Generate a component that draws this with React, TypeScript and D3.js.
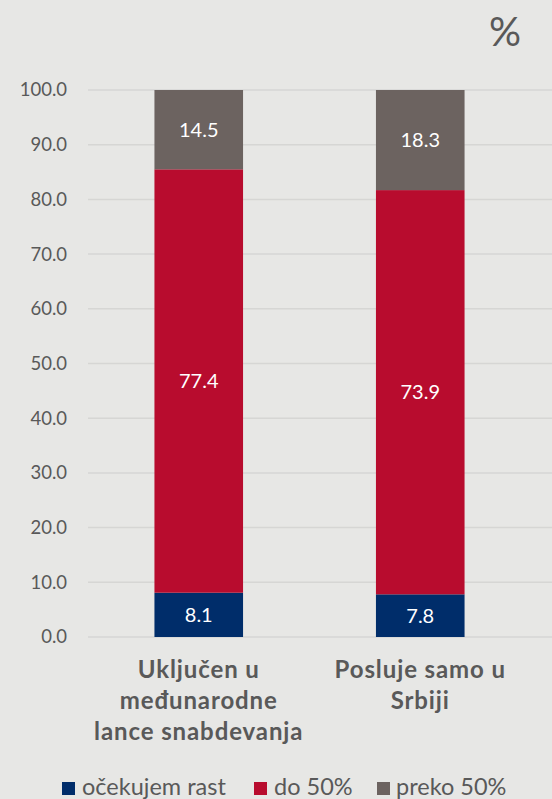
import React from "react";
import * as d3 from "d3";

const categories = [
  ["Uključen u", "međunarodne", "lance snabdevanja"],
  ["Posluje samo u", "Srbiji"],
];
const seriesNames = ["očekujem rast", "do 50%", "preko 50%"];
const rastValues = [8.1, 7.8];
const do50Values = [77.4, 73.9];
const preko50Values = [14.5, 18.3];
const yTicks = [0, 10, 20, 30, 40, 50, 60, 70, 80, 90, 100];

const colors = ["#002d6a", "#b80c2e", "#6c6360"];
const FONT = "'Lato', 'Open Sans', sans-serif";

export default function App() {
  const W = 552, H = 799;
  const x0 = 88, x1 = 531;
  const y = d3.scaleLinear().domain([0, 100]).range([637, 90]);
  const x = d3.scaleBand<number>().domain([0, 1]).range([x0, x1]).paddingInner(0.6).paddingOuter(0.3);
  const data = categories.map((_, i) => ({ i, rast: rastValues[i], do50: do50Values[i], preko: preko50Values[i] }));
  const stack = d3.stack<any>().keys(["rast", "do50", "preko"])(data);

  const legendItems = [
    { sx: 62, tx: 82 },
    { sx: 254, tx: 274 },
    { sx: 377, tx: 396 },
  ];

  return (
    <div style={{ position: "fixed", left: 0, top: 0 }}>
      <svg width={W} height={H} style={{ display: "block" }} fontFamily={FONT}>
        <rect width={W} height={H} fill="#e7e7e5" />
        <text x={521} y={46} textAnchor="end" fontSize={40} fill="#595959">%</text>
        {yTicks.map((t) => (
          <g key={t}>
            <line x1={x0} x2={W} y1={y(t)} y2={y(t)} stroke="#d6d6d4" strokeWidth={1.5} />
            <text x={67} y={y(t)} dy="0.35em" textAnchor="end" fontSize={18.5} fill="#595959">
              {t.toFixed(1)}
            </text>
          </g>
        ))}
        {stack.map((s, si) =>
          s.map((d, i) => {
            const bx = x(i)!;
            const bw = x.bandwidth();
            const top = y(d[1]);
            const bot = y(d[0]);
            const v = d[1] - d[0];
            return (
              <g key={`${si}-${i}`}>
                <rect x={bx} y={top} width={bw} height={bot - top} fill={colors[si]} />
                <text x={bx + bw / 2} y={(top + bot) / 2} dy="0.35em" textAnchor="middle" fontSize={20} fill="#ffffff">
                  {v.toFixed(1)}
                </text>
              </g>
            );
          })
        )}
        {categories.map((lines, i) => (
          <text key={i} textAnchor="middle" fontSize={24} fontWeight="bold" fill="#595959" letterSpacing={0.9}>
            {lines.map((l, li) => (
              <tspan key={li} x={x(i)! + x.bandwidth() / 2} y={678 + li * 31}>{l}</tspan>
            ))}
          </text>
        ))}
        {seriesNames.map((n, i) => (
          <g key={n}>
            <rect x={legendItems[i].sx} y={782} width={13} height={13} fill={colors[i]} />
            <text x={legendItems[i].tx} y={795} fontSize={23.5} fill="#595959">{n}</text>
          </g>
        ))}
      </svg>
    </div>
  );
}
